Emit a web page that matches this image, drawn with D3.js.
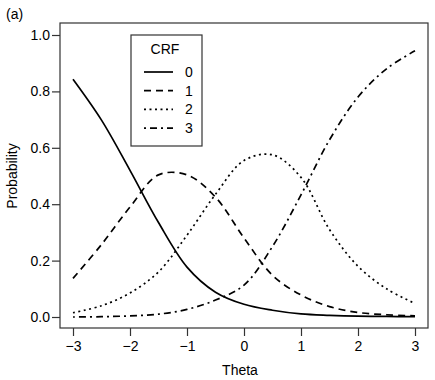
<!DOCTYPE html>
<html><head><meta charset="utf-8">
<script src="https://cdn.jsdelivr.net/npm/d3@7"></script>
<style>body{margin:0;background:#fff;} text{font-family:"Liberation Sans",Arial,sans-serif;fill:#000;}</style>
</head><body><svg id="c" width="435" height="380"></svg>
<script>
const theta = [-3,-2.5,-2,-1.5,-1,-0.5,0,0.5,1,1.5,2,2.5,3];
const crf0 = [0.843,0.698,0.52,0.335,0.177,0.088,0.045,0.024,0.011,0.006,0.003,0.002,0.001];
const crf1 = [0.137,0.257,0.39,0.504,0.504,0.425,0.28,0.148,0.078,0.037,0.016,0.008,0.004];
const crf2 = [0.015,0.04,0.085,0.16,0.29,0.435,0.555,0.575,0.495,0.31,0.18,0.10,0.048];
const crf3 = [0.0,0.001,0.004,0.01,0.027,0.06,0.113,0.25,0.433,0.628,0.78,0.88,0.944];
const seriesNames = ["0","1","2","3"];
const xTicks = [-3,-2,-1,0,1,2,3];
const yTicks = [0,0.2,0.4,0.6,0.8,1.0];

const svg = d3.select("#c");
const box = {l:60, r:428, t:23, b:328};
const x = d3.scaleLinear().domain([-3,3]).range([73,415]);
const y = d3.scaleLinear().domain([0,1]).range([317,35]);

svg.append("rect").attr("x",box.l).attr("y",box.t).attr("width",box.r-box.l).attr("height",box.b-box.t)
  .attr("fill","none").attr("stroke","#333").attr("stroke-width",1.2);

const xAxis = svg.append("g").attr("transform",`translate(0,${box.b})`)
  .call(d3.axisBottom(x).tickValues(xTicks).tickFormat(d=>d<0?"\u2212"+Math.abs(d):d).tickSize(8).tickPadding(5));
const yAxis = svg.append("g").attr("transform",`translate(${box.l},0)`)
  .call(d3.axisLeft(y).tickValues(yTicks).tickFormat(d3.format(".1f")).tickSize(8).tickPadding(2));
[xAxis,yAxis].forEach(g=>{
  g.select(".domain").remove();
  g.selectAll("line").attr("stroke","#333").attr("stroke-width",1.2);
  g.selectAll("text").style("font-size","14px").attr("fill","#000");
});

svg.append("text").attr("x",240).attr("y",375).attr("text-anchor","middle").style("font-size","14px").text("Theta");
svg.append("text").attr("transform","translate(17,176) rotate(-90)").attr("text-anchor","middle").style("font-size","14px").text("Probability");
svg.append("text").attr("x",6).attr("y",19).style("font-size","14px").text("(a)");

const dashes = [null,"7,5","2,3.5","2,4,7,4"];
const data = [crf0,crf1,crf2,crf3];
const line = d3.line().x((d,i)=>x(theta[i])).y(d=>y(d)).curve(d3.curveCatmullRom.alpha(0.5));
data.forEach((s,k)=>{
  svg.append("path").attr("d",line(s)).attr("fill","none").attr("stroke","#000")
    .attr("stroke-width",1.7).attr("stroke-dasharray",dashes[k]);
});

// legend
const lg = svg.append("g");
lg.append("rect").attr("x",131).attr("y",35).attr("width",71).attr("height",111)
  .attr("fill","#fff").attr("stroke","#333").attr("stroke-width",1.2);
lg.append("text").attr("x",165).attr("y",54).attr("text-anchor","middle").style("font-size","14px").text("CRF");
seriesNames.forEach((n,k)=>{
  const yy = 72 + k*18.7;
  lg.append("line").attr("x1",144).attr("x2",173).attr("y1",yy).attr("y2",yy)
    .attr("stroke","#000").attr("stroke-width",1.7).attr("stroke-dasharray",dashes[k]);
  lg.append("text").attr("x",189).attr("y",yy+5).attr("text-anchor","middle").style("font-size","14px").text(n);
});
</script></body></html>
